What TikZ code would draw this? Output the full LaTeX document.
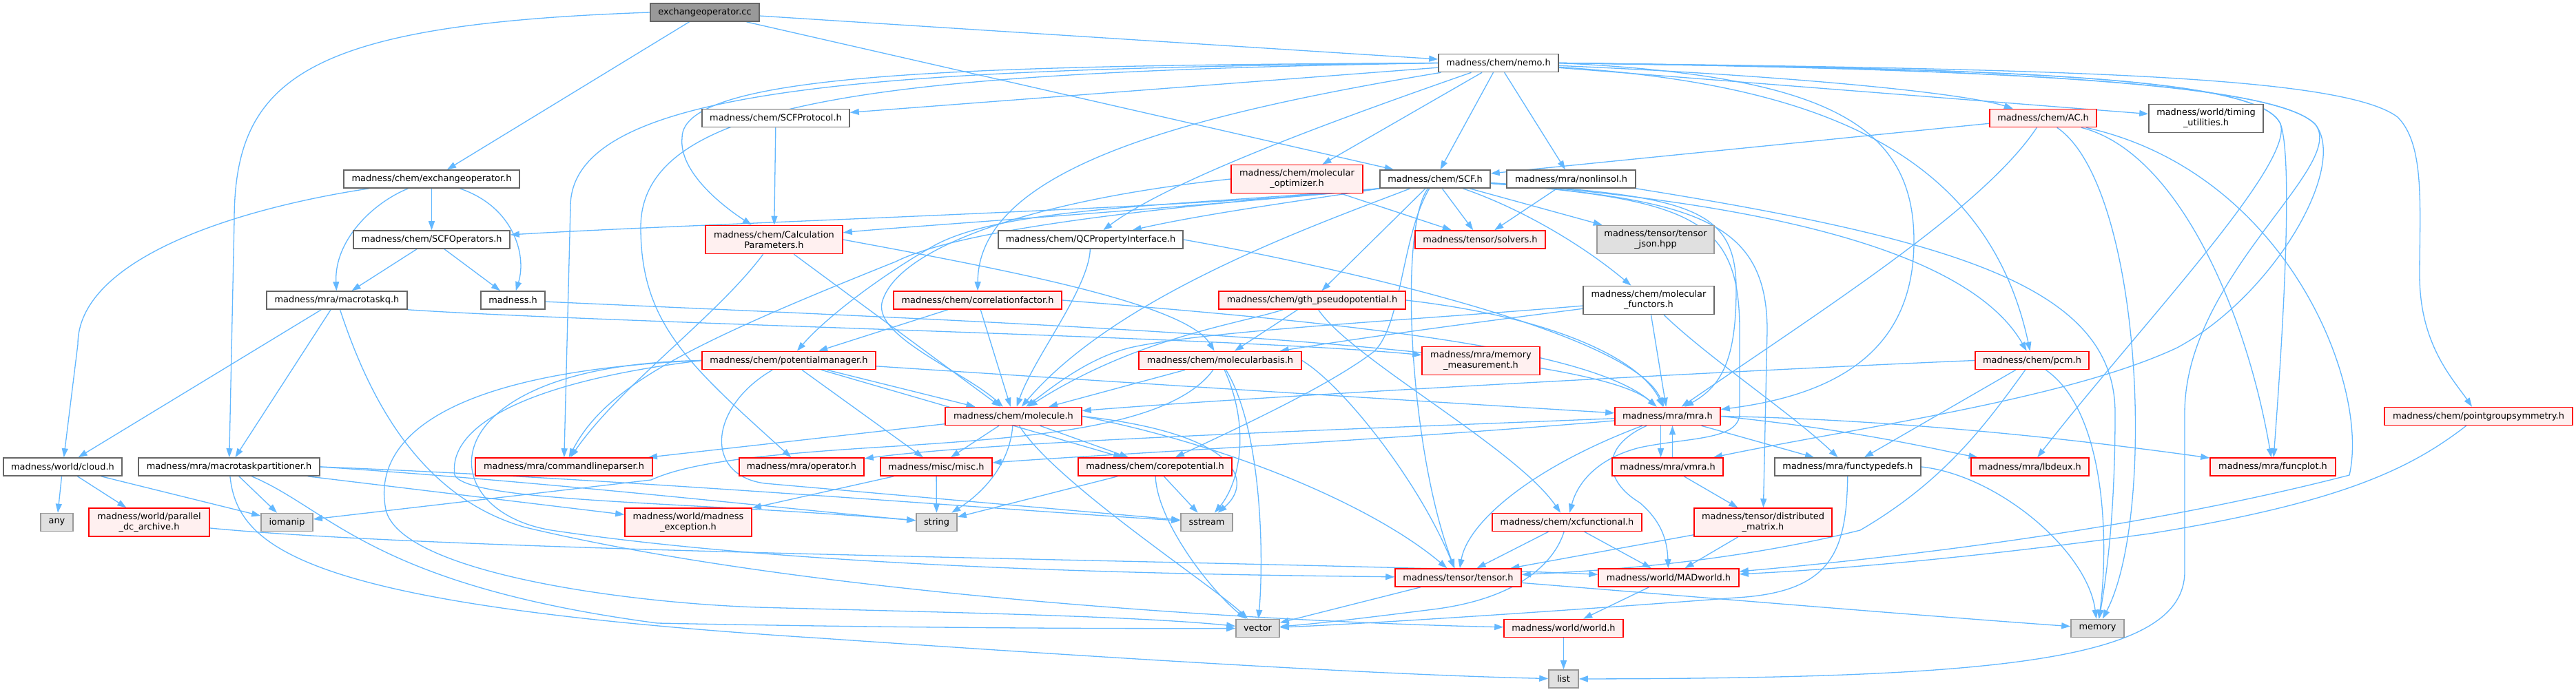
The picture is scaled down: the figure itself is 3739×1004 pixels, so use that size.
\documentclass[tikz,border=0pt]{standalone}
\usepackage{fontspec}
\setmainfont{DejaVu Sans}
\usetikzlibrary{arrows.meta}
\definecolor{edgec}{HTML}{63B8FF}
\definecolor{redb}{HTML}{FF0000}
\definecolor{redf}{HTML}{FFF0F0}
\definecolor{grayb}{HTML}{999999}
\definecolor{grayf}{HTML}{E0E0E0}
\definecolor{whiteb}{HTML}{666666}
\definecolor{rootf}{HTML}{999999}
\pgfdeclarelayer{bg}
\pgfsetlayers{bg,main}
\newcommand\mynode[7]{\node[#1,minimum width=#2pt,minimum height=#3pt] (#4) at (#5,#6) {#7};}
\begin{document}
\begin{tikzpicture}[x=1pt,y=-1pt,
 box/.style={rectangle,draw,line width=1.6pt,inner sep=0pt,align=center,font=\fontsize{12.9}{15}\selectfont},
 rn/.style={box,draw=redb,fill=redf},
 wn/.style={box,draw=whiteb,fill=white},
 gn/.style={box,draw=grayb,fill=grayf},
 root/.style={box,draw=whiteb,fill=rootf},
 ed/.style={draw=edgec,line width=1.3pt,-{Triangle[length=13pt,width=9pt]}},
]
\useasboundingbox (0,0) rectangle (3739,1004);
\mynode{root}{158}{26}{cc}{1023}{18}{exchangeoperator.cc}
\mynode{wn}{174}{26}{nemo}{2175}{91.5}{madness/chem/nemo.h}
\mynode{wn}{214}{26}{scfprot}{1126}{171.5}{madness/chem/SCFProtocol.h}
\mynode{rn}{155}{26}{ac}{2965.5}{171.5}{madness/chem/AC.h}
\mynode{wn}{166}{41}{timing}{3202}{172}{madness/world/timing\\\_utilities.h}
\mynode{wn}{255}{26}{exh}{626.5}{260}{madness/chem/exchangeoperator.h}
\mynode{rn}{191}{41}{molopt}{1882.5}{260}{madness/chem/molecular\\\_optimizer.h}
\mynode{wn}{160}{26}{scf}{2083}{260}{madness/chem/SCF.h}
\mynode{wn}{187}{26}{nonlin}{2280.5}{260}{madness/mra/nonlinsol.h}
\mynode{wn}{227}{26}{scfops}{626.5}{348}{madness/chem/SCFOperators.h}
\mynode{rn}{199}{41}{calc}{1123.5}{348}{madness/chem/Calculation\\Parameters.h}
\mynode{wn}{268}{26}{qcprop}{1583}{348}{madness/chem/QCPropertyInterface.h}
\mynode{rn}{189}{26}{solvers}{2148.5}{348}{madness/tensor/solvers.h}
\mynode{gn}{170}{41}{tjson}{2403}{348}{madness/tensor/tensor\\\_json.hpp}
\mynode{wn}{204}{26}{mtq}{489}{436}{madness/mra/macrotaskq.h}
\mynode{wn}{93}{26}{madh}{744.5}{436}{madness.h}
\mynode{rn}{244}{26}{corr}{1419}{436}{madness/chem/correlationfactor.h}
\mynode{rn}{271}{26}{gth}{1904.5}{436}{madness/chem/gth\_pseudopotential.h}
\mynode{wn}{190}{41}{molfun}{2393}{436}{madness/chem/molecular\\\_functors.h}
\mynode{rn}{252}{26}{potm}{1145}{523.5}{madness/chem/potentialmanager.h}
\mynode{rn}{236}{26}{molbas}{1771}{523.5}{madness/chem/molecularbasis.h}
\mynode{rn}{171}{41}{memm}{2149.5}{524}{madness/mra/memory\\\_measurement.h}
\mynode{rn}{165}{26}{pcm}{2949.5}{523.5}{madness/chem/pcm.h}
\mynode{rn}{198}{26}{molec}{1471}{604.5}{madness/chem/molecule.h}
\mynode{rn}{153}{26}{mra}{2420.5}{604.5}{madness/mra/mra.h}
\mynode{rn}{273}{26}{pgs}{3597.5}{604.5}{madness/chem/pointgroupsymmetry.h}
\mynode{wn}{172}{26}{cloud}{91}{678}{madness/world/cloud.h}
\mynode{wn}{263}{26}{mtp}{332.5}{678}{madness/mra/macrotaskpartitioner.h}
\mynode{rn}{257}{26}{clp}{818.5}{678}{madness/mra/commandlineparser.h}
\mynode{rn}{181}{26}{oper}{1163.5}{678}{madness/mra/operator.h}
\mynode{rn}{162}{26}{misc}{1359}{678}{madness/misc/misc.h}
\mynode{rn}{223}{26}{corep}{1676.5}{678}{madness/chem/corepotential.h}
\mynode{rn}{161}{26}{vmra}{2420.5}{678}{madness/mra/vmra.h}
\mynode{wn}{212}{26}{ftd}{2682}{678}{madness/mra/functypedefs.h}
\mynode{rn}{171}{26}{lbdeux}{2946.5}{678}{madness/mra/lbdeux.h}
\mynode{rn}{182}{26}{funcplot}{3299}{678}{madness/mra/funcplot.h}
\mynode{gn}{47}{26}{any}{82.5}{758.5}{any}
\mynode{rn}{175}{41}{pdc}{216.5}{758.5}{madness/world/parallel\\\_dc\_archive.h}
\mynode{gn}{75}{26}{iomanip}{416.5}{758.5}{iomanip}
\mynode{rn}{184}{41}{mexc}{999}{758.5}{madness/world/madness\\\_exception.h}
\mynode{gn}{59}{26}{string}{1359.5}{758.5}{string}
\mynode{gn}{75}{26}{sstream}{1751.5}{758.5}{sstream}
\mynode{rn}{217}{26}{xcf}{2274.5}{758.5}{madness/chem/xcfunctional.h}
\mynode{rn}{200}{41}{dmat}{2559}{758.5}{madness/tensor/distributed\\\_matrix.h}
\mynode{rn}{183}{26}{tensor}{2116.5}{839}{madness/tensor/tensor.h}
\mynode{rn}{204}{26}{madw}{2422}{839}{madness/world/MADworld.h}
\mynode{gn}{63}{26}{vector}{1825.5}{912.5}{vector}
\mynode{rn}{173}{26}{world}{2269.5}{912.5}{madness/world/world.h}
\mynode{gn}{77}{26}{memory}{3044.5}{912.5}{memory}
\mynode{gn}{43}{26}{list}{2269.5}{986}{list}
\begin{pgfonlayer}{bg}
\fill[white] (0,0) rectangle (3739,1004);
% cc
\draw[ed] (cc) -- (exh);
\draw[ed] (cc) -- (nemo);
\draw[ed] (cc) -- (scf);
\draw[ed] (cc.west) .. controls (450,35) and (340,110) .. (340,320) -- (mtp);
% exh
\draw[ed] (exh) -- (scfops);
\draw[ed] (exh) .. controls (745,300) and (765,370) .. (madh);
\draw[ed] (exh) .. controls (540,295) and (485,350) .. (mtq);
\draw[ed] (exh) .. controls (330,305) and (113,380) .. (113,500) -- (cloud);
% scfops
\draw[ed] (scfops) -- (mtq);
\draw[ed] (scfops) -- (madh);
% mtq
\draw[ed] (mtq) -- (cloud);
\draw[ed] (mtq) -- (mtp);
\draw[ed] (mtq) .. controls (530,560) and (600,720) .. (763,766) .. controls (1200,870) and (1900,905) .. (world);
\draw[ed] (mtq.south east) .. controls (900,470) and (1800,490) .. (memm);
% madh
\draw[ed] (madh) .. controls (1500,470) and (2300,500) .. (mra);
% cloud
\draw[ed] (cloud) -- (any);
\draw[ed] (cloud) -- (pdc);
\draw[ed] (cloud) -- (iomanip);
% pdc
\draw[ed] (pdc) .. controls (700,805) and (1900,815) .. (madw);
% mtp
\draw[ed] (mtp) -- (iomanip);
\draw[ed] (mtp) -- (mexc);
\draw[ed] (mtp.east) .. controls (800,700) and (1150,740) .. (string);
\draw[ed] (mtp.east) .. controls (900,695) and (1450,740) .. (sstream);
\draw[ed] (mtp) .. controls (480,740) and (540,850) .. (954,905) .. controls (1300,912) and (1600,913) .. (vector);
\draw[ed] (mtp) .. controls (345,800) and (450,880) .. (1193,927) .. controls (1600,955) and (2000,980) .. (list);
% mra
\draw[ed] (mra) .. controls (2000,622) and (1450,640) .. (oper);
\draw[ed] (mra) .. controls (2000,640) and (1600,660) .. (misc);
\draw[ed] ([xshift=-10pt]mra.south) -- ([xshift=-10pt]vmra.north);
\draw[ed] ([xshift=7pt]vmra.north) -- ([xshift=7pt]mra.south);
\draw[ed] (mra) -- (ftd);
\draw[ed] (mra) .. controls (2220,680) and (2130,760) .. (tensor);
\draw[ed] (mra) .. controls (2320,650) and (2330,700) .. (2380,730) .. controls (2415,760) and (2420,790) .. (madw);
\draw[ed] (mra.east) .. controls (2700,625) and (2820,655) .. (lbdeux);
\draw[ed] (mra.east) .. controls (2800,610) and (3100,650) .. (funcplot);
% vmra
\draw[ed] (vmra) -- (dmat);
% ftd
\draw[ed] (ftd) .. controls (2680,800) and (2660,860) .. (2520,868) .. controls (2300,885) and (2000,905) .. (vector);
\draw[ed] (ftd.east) .. controls (2900,690) and (3030,800) .. (memory);
% xcf
\draw[ed] (xcf) -- (tensor);
\draw[ed] (xcf) -- (madw);
\draw[ed] (xcf) .. controls (2255,820) and (2200,870) .. (2080,885) .. controls (2000,895) and (1920,905) .. (vector);
% dmat
\draw[ed] (dmat) -- (tensor);
\draw[ed] (dmat) -- (madw);
% tensor
\draw[ed] (tensor) -- (vector);
\draw[ed] (tensor) .. controls (2500,870) and (2800,895) .. (memory);
% madw, world
\draw[ed] (madw) -- (world);
\draw[ed] (world) -- (list);
% pgs
\draw[ed] (pgs) .. controls (3500,680) and (3400,730) .. (3120,775) .. controls (2900,805) and (2700,825) .. (madw);
% molec
\draw[ed] (molec) -- (clp);
\draw[ed] (molec) -- (misc);
\draw[ed] (molec) -- (corep);
\draw[ed] (molec) .. controls (1465,680) and (1420,720) .. (string);
\draw[ed] (molec.east) .. controls (1800,630) and (1820,700) .. (sstream);
\draw[ed] (molec) .. controls (1530,700) and (1760,850) .. (vector);
\draw[ed] (molec.east) .. controls (1800,650) and (2000,740) .. (tensor);
% potm
\draw[ed] (potm) -- (molec);
\draw[ed] (potm) -- (misc);
\draw[ed] (potm) -- (corep);
\draw[ed] (potm) .. controls (1700,560) and (2100,585) .. (mra);
\draw[ed] (potm) .. controls (1030,590) and (1020,690) .. (1110,702) -- (sstream);
\draw[ed] (potm.west) .. controls (620,530) and (620,740) .. (800,770) .. controls (1200,830) and (1800,835) .. (tensor);
\draw[ed] (potm.west) .. controls (760,555) and (650,620) .. (660,690) .. controls (680,730) and (1000,728) .. (string);
\draw[ed] (potm.west) .. controls (640,540) and (540,640) .. (560,740) .. controls (580,830) and (900,875) .. (1100,882) .. controls (1400,890) and (1650,895) .. (vector);
% molbas
\draw[ed] (molbas) -- (molec);
\draw[ed] (molbas) .. controls (1830,620) and (1835,800) .. (vector);
\draw[ed] (molbas) .. controls (1815,620) and (1800,700) .. (sstream);
\draw[ed] (molbas.east) .. controls (1950,560) and (2060,700) .. (tensor);
\draw[ed] (molbas) .. controls (1700,620) and (1500,635) .. (1300,648) .. controls (1100,660) and (1000,672) .. (945,697) -- (iomanip);
% corep
\draw[ed] (corep) -- (string);
\draw[ed] (corep) -- (sstream);
\draw[ed] (corep) .. controls (1680,760) and (1760,860) .. (vector);
% misc
\draw[ed] (misc) -- (string);
\draw[ed] (misc) -- (mexc);
% calc
\draw[ed] (calc) -- (molec);
\draw[ed] (calc) .. controls (1040,460) and (900,560) .. (clp);
\draw[ed] (calc.east) .. controls (1450,390) and (1720,440) .. (molbas);
% scfprot
\draw[ed] (scfprot) -- (calc);
% qcprop
\draw[ed] (qcprop) .. controls (1580,420) and (1500,520) .. (molec);
\draw[ed] (qcprop.east) .. controls (1900,380) and (2370,480) .. (mra);
% corr
\draw[ed] (corr) -- (potm);
\draw[ed] (corr) -- (molec);
\draw[ed] (corr.east) .. controls (1900,465) and (2300,500) .. (mra);
% gth
\draw[ed] (gth) -- (molbas);
\draw[ed] (gth) .. controls (1800,470) and (1650,490) .. (molec);
\draw[ed] (gth) .. controls (1960,520) and (2200,650) .. (xcf);
\draw[ed] (gth.east) .. controls (2250,460) and (2380,520) .. (mra);
% molopt
\draw[ed] (molopt) -- (solvers);
\draw[ed] (molopt.west) .. controls (1500,290) and (1300,360) .. (1280,440) .. controls (1270,490) and (1400,540) .. (molec);
% ac
\draw[ed] (ac) -- (scf);
\draw[ed] (ac) .. controls (2880,300) and (2660,440) .. (mra);
\draw[ed] (ac) .. controls (3160,220) and (3260,450) .. (funcplot);
\draw[ed] (ac) .. controls (3110,270) and (3130,750) .. (memory);
\draw[ed] (ac) .. controls (3320,250) and (3440,560) .. (3410,690) .. controls (3100,770) and (2750,810) .. (madw);
% nonlin
\draw[ed] (nonlin) -- (solvers);
\draw[ed] (nonlin.south east) .. controls (2850,350) and (3070,420) .. (3070,600) .. controls (3070,760) and (3055,850) .. (memory);
% molfun
\draw[ed] (molfun) .. controls (2050,465) and (1750,480) .. (1640,505) .. controls (1580,520) and (1530,560) .. (molec);
\draw[ed] (molfun) .. controls (2050,480) and (1950,495) .. (molbas);
\draw[ed] (molfun) -- (mra);
\draw[ed] (molfun) .. controls (2480,520) and (2600,600) .. (ftd);
% pcm
\draw[ed] (pcm.west) .. controls (2700,530) and (1900,570) .. (molec);
\draw[ed] (pcm) -- (ftd);
\draw[ed] (pcm) .. controls (2880,620) and (2820,700) .. (2700,770) .. controls (2500,820) and (2300,830) .. (tensor);
\draw[ed] (pcm) .. controls (3060,600) and (3060,800) .. (memory);
% nemo
\draw[ed] (nemo) -- (scfprot);
\draw[ed] (nemo) .. controls (2600,110) and (2850,135) .. (ac);
\draw[ed] (nemo) -- (timing);
\draw[ed] (nemo) -- (molopt);
\draw[ed] (nemo) -- (scf);
\draw[ed] (nemo) -- (nonlin);
\draw[ed] (nemo.west) .. controls (1400,95) and (990,105) .. (990,200) .. controls (985,250) and (1050,300) .. (calc);
\draw[ed] (nemo.west) .. controls (1300,100) and (828,120) .. (828,300) -- (clp);
\draw[ed] (nemo.west) .. controls (1300,105) and (930,140) .. (930,330) .. controls (930,470) and (1000,530) .. (oper);
\draw[ed] (nemo) .. controls (1700,170) and (1420,250) .. (corr);
\draw[ed] (nemo) .. controls (1950,170) and (1700,260) .. (qcprop);
\draw[ed] (nemo) .. controls (2600,120) and (2880,200) .. (pcm);
\draw[ed] (nemo.east) .. controls (2650,110) and (2778,180) .. (2778,350) .. controls (2778,520) and (2650,575) .. (mra);
\draw[ed] (nemo.east) .. controls (2900,100) and (3300,120) .. (3360,180) .. controls (3410,240) and (3300,430) .. (3160,505) .. controls (3000,580) and (2700,620) .. (vmra);
\draw[ed] (nemo.east) .. controls (2900,100) and (3300,120) .. (3360,180) .. controls (3410,240) and (3171,400) .. (3171,600) -- (3171,830) .. controls (3171,960) and (2900,985) .. (list);
\draw[ed] (nemo.east) .. controls (2900,100) and (3280,110) .. (3310,180) .. controls (3325,220) and (3320,400) .. (funcplot);
\draw[ed] (nemo.east) .. controls (2900,100) and (3280,110) .. (3310,180) .. controls (3330,240) and (3100,480) .. (lbdeux);
\draw[ed] (nemo.east) .. controls (3000,100) and (3400,110) .. (3480,170) .. controls (3520,210) and (3512,300) .. (3512,400) .. controls (3512,500) and (3560,550) .. (pgs);
% scf
\draw[ed] (scf.south west) .. controls (1800,300) and (1000,325) .. (scfops);
\draw[ed] (scf.south west) .. controls (1750,300) and (1300,330) .. (calc);
\draw[ed] (scf.south west) .. controls (1900,290) and (1750,310) .. (qcprop);
\draw[ed] (scf) -- (solvers);
\draw[ed] (scf) -- (tjson);
\draw[ed] (scf) .. controls (2200,300) and (2290,350) .. (molfun);
\draw[ed] (scf) -- (gth);
\draw[ed] (scf.south west) .. controls (1700,300) and (1450,300) .. (1350,360) .. controls (1280,400) and (1200,460) .. (potm);
\draw[ed] (scf) .. controls (1900,330) and (1620,430) .. (molec);
\draw[ed] (scf.south west) .. controls (1700,300) and (1400,330) .. (1300,380) .. controls (1000,500) and (880,560) .. (clp);
\draw[ed] (scf) .. controls (2035,340) and (2035,470) .. (1995,510) .. controls (1930,560) and (1800,620) .. (corep);
\draw[ed] (scf) .. controls (2030,330) and (2045,650) .. (tensor);
\draw[ed] (scf) .. controls (2500,290) and (2850,350) .. (pcm);
\draw[ed] (scf) .. controls (2450,285) and (2520,300) .. (2520,420) .. controls (2520,520) and (2500,560) .. (mra);
\draw[ed] (scf) .. controls (2460,290) and (2525,320) .. (2525,480) -- (2525,600) .. controls (2525,640) and (2450,635) .. (2380,650) .. controls (2320,665) and (2290,700) .. (xcf);
\draw[ed] (scf) .. controls (2460,290) and (2565,320) .. (2565,480) -- (dmat);
\end{pgfonlayer}
\end{tikzpicture}
\end{document}
